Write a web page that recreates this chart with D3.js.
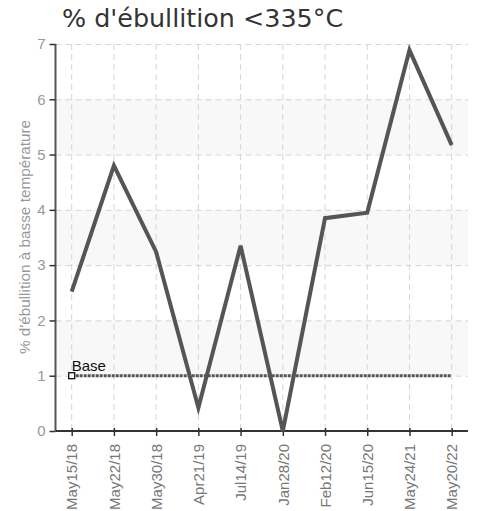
<!DOCTYPE html>
<html><head><meta charset="utf-8">
<script src="https://cdn.jsdelivr.net/npm/d3@7"></script>
<style>body{margin:0;background:#fff}svg{display:block}</style>
</head><body><svg id="c" width="478" height="511"></svg>
<script>
const categories = ["May15/18","May22/18","May30/18","Apr21/19","Jul14/19","Jan28/20","Feb12/20","Jun15/20","May24/21","May20/22"];
const values = [2.52, 4.8, 3.24, 0.42, 3.35, 0.0, 3.85, 3.95, 6.89, 5.17];
const baseValues = [1,1,1,1,1,1,1,1,1,1];
const yTicks = [0,1,2,3,4,5,6,7];
const title = "% d'ébullition <335°C";
const yLabel = "% d'ébullition à basse température";
const baseLabel = "Base";

(function(){
const svg = d3.select("#c");
const pL = 55.5, pR = 468, pT = 44, pB = 431;
const x = d3.scalePoint().domain(categories).range([71.7, 451.7]);
const y = d3.scaleLinear().domain([0,7]).range([pB, pT]);
const narrow = "'Liberation Sans',Arial,sans-serif";

// bands
const bands = [[1,2],[3,4],[5,6]];
svg.append("g").selectAll("rect").data(bands).join("rect")
  .attr("x", pL).attr("width", pR-pL)
  .attr("y", d=>y(d[1])).attr("height", d=>y(d[0])-y(d[1]))
  .attr("fill", "#f8f8f8");

// grid
const g = svg.append("g");
g.selectAll("line.h").data(yTicks.filter(t=>t>0)).join("line").attr("class","h")
  .attr("x1", pL).attr("x2", pR).attr("y1", d=>y(d)+0.5).attr("y2", d=>y(d)+0.5)
  .attr("stroke", "#d6d6d6").attr("stroke-dasharray", "6,4");
g.selectAll("line.v").data(categories).join("line").attr("class","v")
  .attr("x1", d=>x(d)).attr("x2", d=>x(d)).attr("y1", pT).attr("y2", pB)
  .attr("stroke", "#d6d6d6").attr("stroke-dasharray", "6,4");

// axes
const yAxis = svg.append("g").attr("transform", `translate(${pL},0)`)
  .call(d3.axisLeft(y).tickValues(yTicks).tickSize(6).tickPadding(4).tickFormat(d3.format("d")));
yAxis.select(".domain").attr("stroke", "#555").attr("stroke-width", 2).attr("d", `M0,${pT}V${pB}`);
yAxis.selectAll(".tick line").attr("stroke", "#333").attr("stroke-width", 1.5);
yAxis.selectAll(".tick text").attr("fill", "#999").style("font-family", narrow).style("font-size", "15px");

const xAxis = svg.append("g").attr("transform", `translate(0,${pB})`)
  .call(d3.axisBottom(x).tickSize(5).tickSizeOuter(0));
xAxis.select(".domain").attr("stroke", "#333").attr("stroke-width", 2).attr("d", `M${pL},0H${pR}`);
xAxis.selectAll(".tick line").attr("stroke", "#333").attr("stroke-width", 1.5).attr("y1", -3);
xAxis.selectAll(".tick text").attr("fill", "#777").style("font-family", narrow).style("font-size", "15px")
  .attr("transform", "rotate(-90)").attr("text-anchor", "end").attr("x", -13).attr("y", 0).attr("dy", "0.35em");

// base line
const baseLine = d3.line().x((d,i)=>x(categories[i])).y(d=>y(d));
svg.append("path").datum(baseValues).attr("d", baseLine)
  .attr("fill", "none").attr("stroke", "#555").attr("stroke-width", 3).attr("stroke-dasharray", "3,1");
svg.append("rect").attr("x", x(categories[0])-3).attr("y", y(baseValues[0])-3).attr("width", 6).attr("height", 6)
  .attr("fill", "#fff").attr("stroke", "#000").attr("stroke-width", 1.2);
svg.append("text").attr("x", x(categories[0])).attr("y", y(baseValues[0])-5)
  .text(baseLabel).style("font-family", narrow).style("font-size", "15px").attr("fill", "#111");

// main line
const line = d3.line().x((d,i)=>x(categories[i])).y(d=>y(d));
svg.append("path").datum(values).attr("d", line)
  .attr("fill", "none").attr("stroke", "#555").attr("stroke-width", 4).attr("stroke-linejoin", "miter");

// title
svg.append("text").attr("x", 62).attr("y", 26.5).text(title)
  .style("font-family", "'DejaVu Sans',sans-serif").style("font-size", "25.4px").attr("fill", "#333");

// y label
svg.append("text").attr("transform", `translate(30,237) rotate(-90)`)
  .attr("text-anchor", "middle").text(yLabel)
  .style("font-family", narrow).style("font-size", "15.3px").attr("fill", "#999");
})();
</script></body></html>
